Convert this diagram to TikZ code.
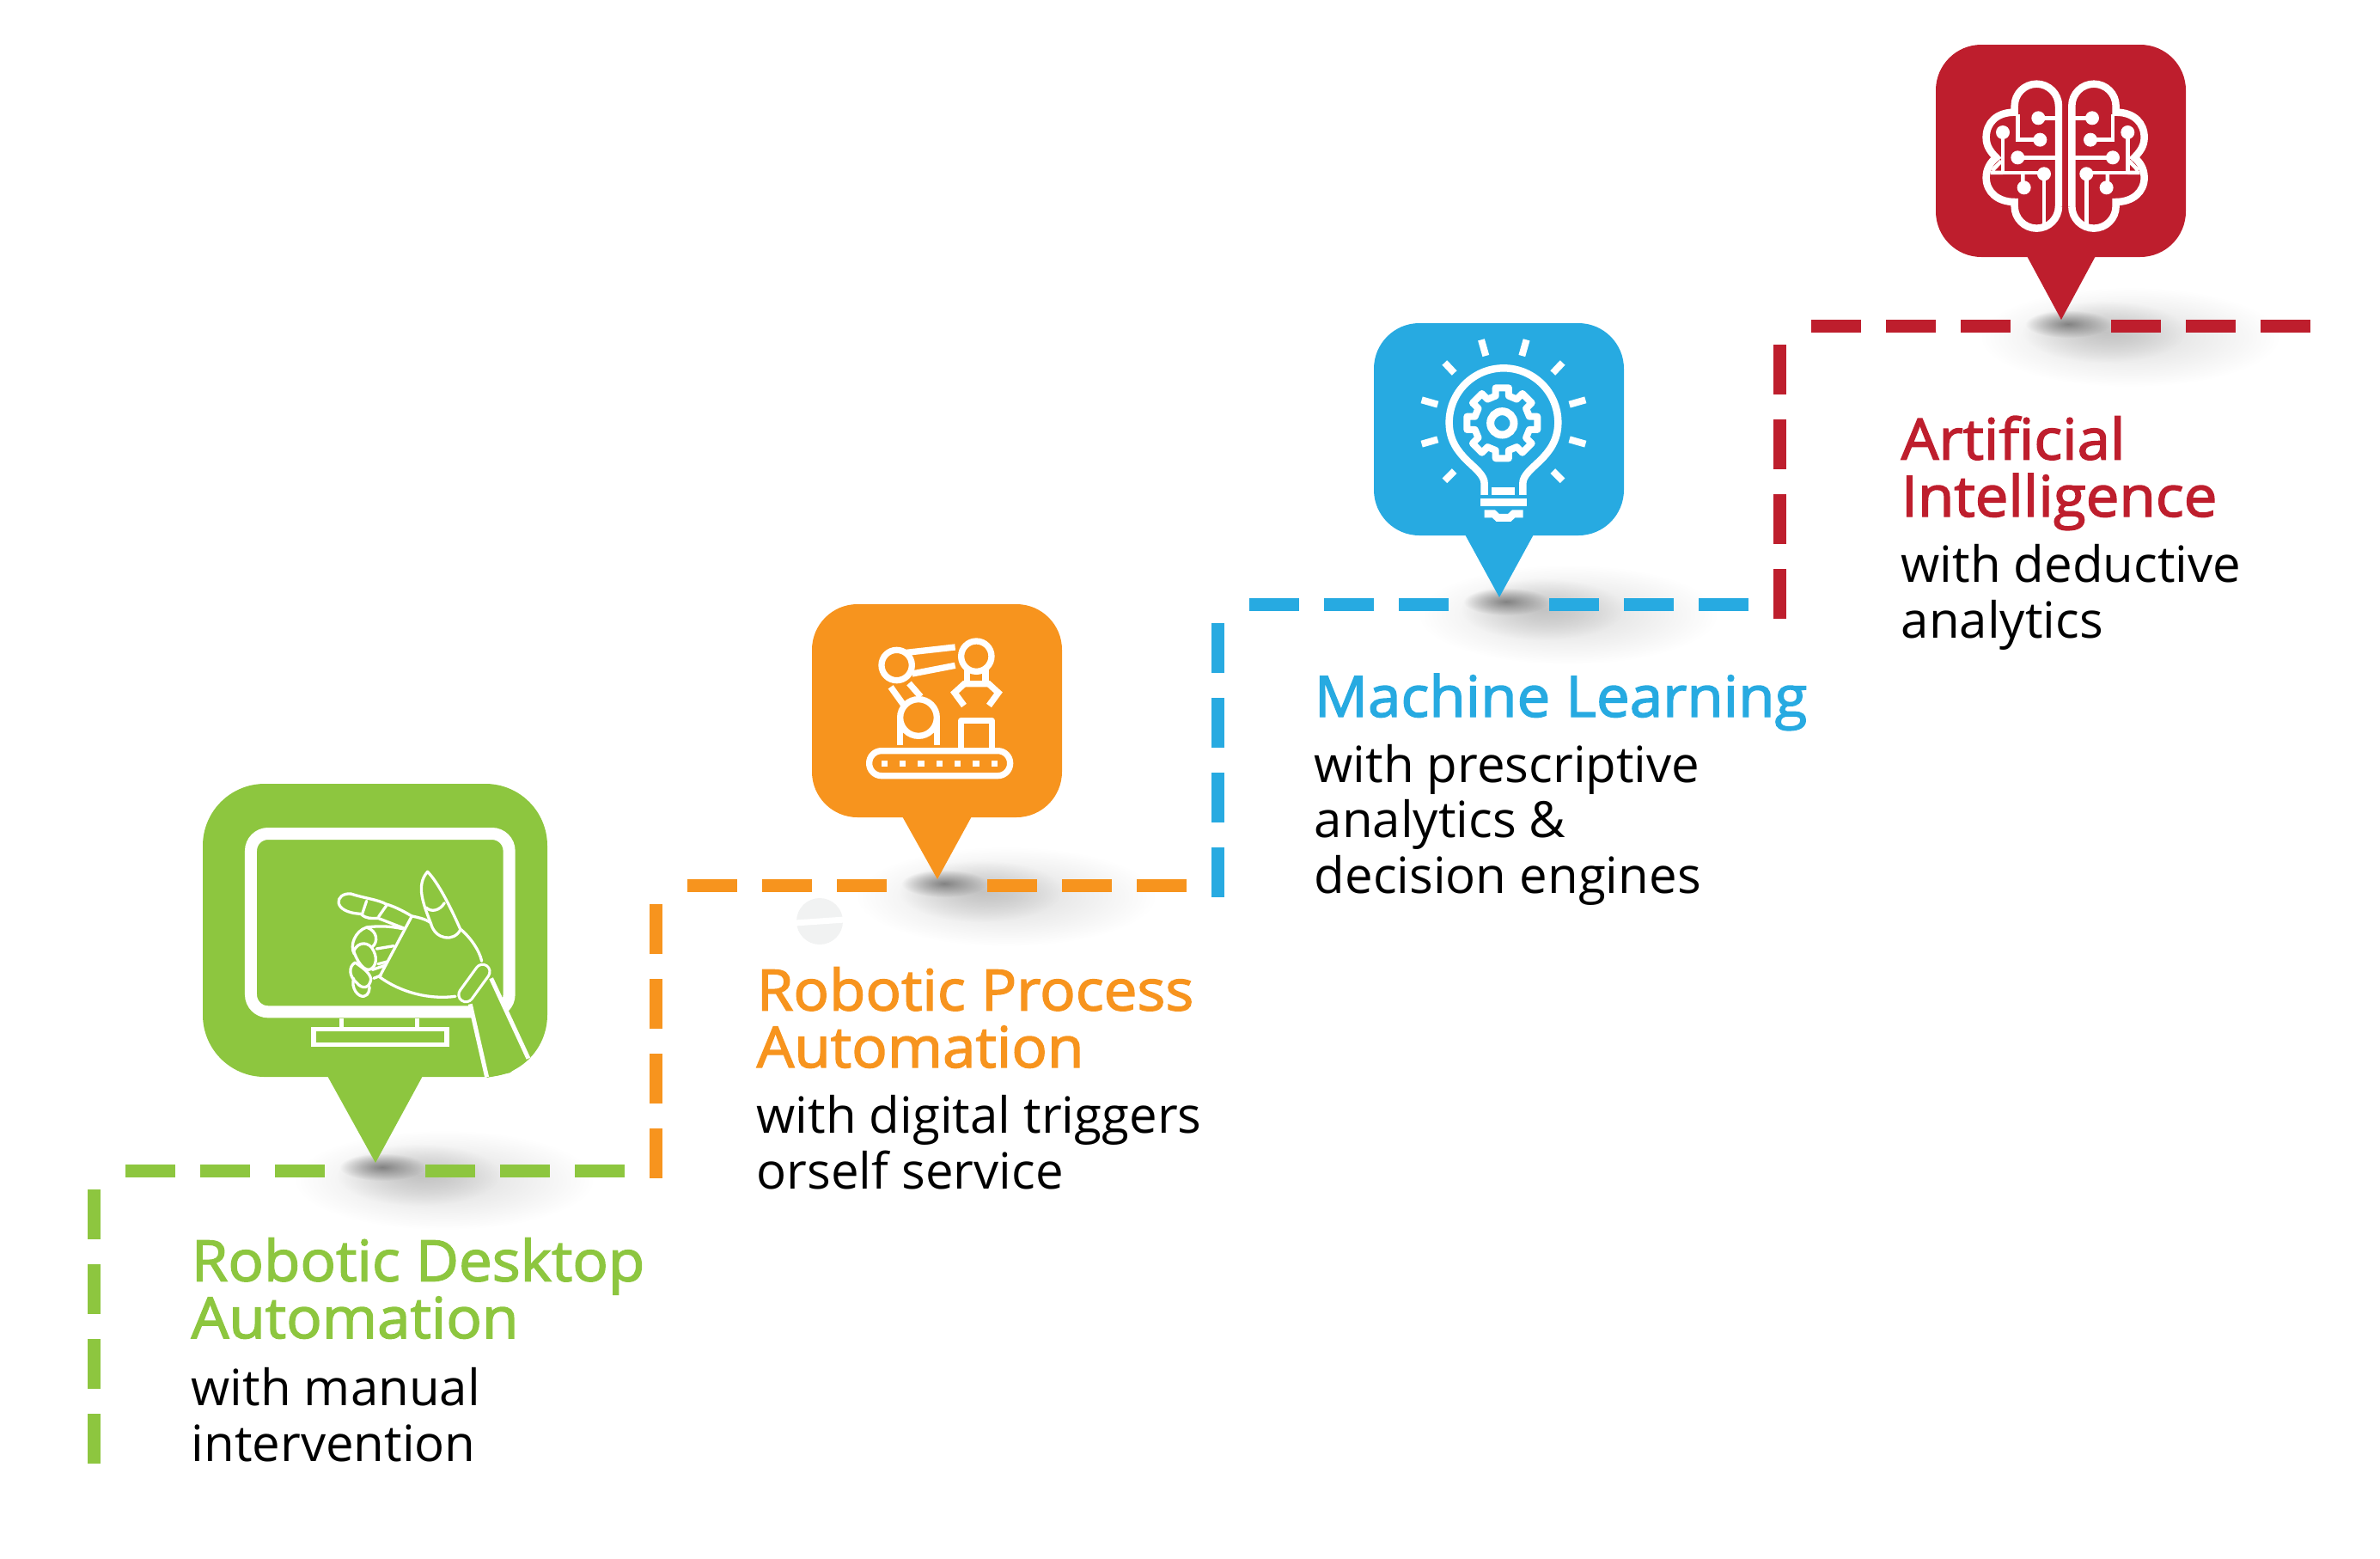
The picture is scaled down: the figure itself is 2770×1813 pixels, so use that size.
\documentclass[tikz,border=0pt]{standalone}
\usepackage{fontspec}
\setmainfont{Open Sans}
\newfontfamily\titlefont{Open Sans}[FakeBold=2.2, FakeStretch=1.045]
\usetikzlibrary{fadings}

\definecolor{rdagreen}{HTML}{8DC63F}
\definecolor{rpaorange}{HTML}{F7941E}
\definecolor{mlblue}{HTML}{27AAE1}
\definecolor{aired}{HTML}{BE1E2D}
\definecolor{ghostgray}{HTML}{F1F2F2}

\tikzfading[name=shadowfade, inner color=transparent!15, outer color=transparent!100]

\tikzset{
  dashline/.style={line width=1.5mm, dash pattern=on 5.8mm off 2.9mm},
  titletext/.style={anchor=base west, align=left, inner sep=0pt, font=\titlefont\fontsize{18.8}{18.9}\selectfont},
  bodytext/.style={anchor=base west, align=left, inner sep=0pt, font=\fontsize{16.55}{18.35}\selectfont},
  icon/.style={white, line width=0.73mm},
  wire/.style={white, line width=0.45mm},
  hand/.style={white, line width=0.33mm, line join=round, line cap=round}
}

\begin{document}
\begin{tikzpicture}[x=0.1mm, y=-0.1mm]
\useasboundingbox (0,0) rectangle (2770,1813);

% Shadows
\foreach \tipx/\tipy in {437/1353, 1091/1023, 1745/695, 2399/372} {
  \fill[black!16, path fading=shadowfade] (\tipx+80,\tipy+20) ellipse (175 and 58);
  \fill[black!26, path fading=shadowfade] (\tipx+50,\tipy+14) ellipse (95 and 36);
  \fill[black!55, path fading=shadowfade] (\tipx+8,\tipy+5) ellipse (50 and 16);
}

% Ghost mark
\fill[ghostgray] (954,1072) circle (27);
\draw[white, line width=0.7mm] (925,1074) -- (983,1070);

% Dashes
\draw[dashline, rdagreen] (109.5,1384) -- (109.5,1704);
\draw[dashline, rdagreen] (146,1362.5) -- (378,1362.5);
\draw[dashline, rdagreen] (495,1362.5) -- (727,1362.5);
\draw[dashline, rpaorange] (763.5,1052) -- (763.5,1372);
\draw[dashline, rpaorange] (800,1030.5) -- (1032,1030.5);
\draw[dashline, rpaorange] (1149,1030.5) -- (1381,1030.5);
\draw[dashline, mlblue] (1417.5,725) -- (1417.5,1045);
\draw[dashline, mlblue] (1454,703) -- (1686,703);
\draw[dashline, mlblue] (1803,703) -- (2035,703);
\draw[dashline, aired] (2071.5,401) -- (2071.5,721);
\draw[dashline, aired] (2108,379.5) -- (2340,379.5);
\draw[dashline, aired] (2457,379.5) -- (2689,379.5);

% Pins
\fill[rdagreen, rounded corners=7.2mm] (236,912) rectangle (637,1253);
\fill[rdagreen] (380,1250) -- (437,1353) -- (493,1250) -- cycle;
\fill[rpaorange, rounded corners=5.3mm] (945,703) rectangle (1236,951);
\fill[rpaorange] (1049,948) -- (1091,1023) -- (1132,948) -- cycle;
\fill[mlblue, rounded corners=5.3mm] (1599,376) rectangle (1890,623);
\fill[mlblue] (1704,620) -- (1745,695) -- (1786,620) -- cycle;
\fill[aired, rounded corners=5.3mm] (2253,52) rectangle (2544,299);
\fill[aired] (2358,296) -- (2399,372) -- (2440,296) -- cycle;

% Monitor and robot hand
\begin{scope}[shift={(200,880)}, scale=0.3333]
  \draw[white, line width=1.4mm, rounded corners=2mm] (276,270) rectangle (1178,892);
  \draw[white, line width=0.5mm] (594,915) -- (594,950) (858,915) -- (858,950);
  \draw[white, line width=0.55mm] (495,953) rectangle (960,1007);
  % arm
  \fill[rdagreen] (1042,860) -- (1100,1122) -- (1180,1105) -- (1245,1055) -- (1115,775) -- cycle;
  \draw[hand, line cap=butt, line width=0.5mm] (1042,865) -- (1100,1120) (1115,775) -- (1245,1055);
  % cuff
  \draw[white, line width=2mm, line cap=round] (1085,752) -- (1027,832);
  \draw[rdagreen, line width=1.35mm, line cap=round] (1085,752) -- (1027,832);
  % palm
  \draw[hand] (1010,605) .. controls (1045,635) and (1075,680) .. (1082,715);
  \draw[hand] (990,838) .. controls (900,850) and (800,825) .. (725,770);
  \draw[hand] (838,558) -- (725,770);
  \draw[hand] (838,558) .. controls (860,562) and (885,568) .. (903,580);
  % thumb
  \draw[hand] (905,585) .. controls (880,520) and (850,450) .. (893,403) .. controls (930,440) and (975,530) .. (1008,605);
  \draw[hand] (905,585) .. controls (920,640) and (985,650) .. (1008,605);
  \draw[hand] (888,528) .. controls (905,545) and (935,540) .. (952,512);
  % index finger
  \draw[hand] (838,558) .. controls (800,535) and (770,522) .. (748,516) .. controls (720,500) and (670,495) .. (625,480);
  \draw[hand] (625,480) .. controls (570,475) and (555,545) .. (660,550);
  \draw[hand] (660,550) .. controls (680,570) and (700,565) .. (720,565) -- (810,600);
  \draw[hand] (680,505) -- (665,550) (750,520) -- (722,560);
  % curled fingers
  \draw[hand] (805,602) .. controls (760,592) and (720,592) .. (680,597) .. controls (640,610) and (620,660) .. (637,690);
  \draw[hand] (680,597) .. controls (720,610) and (720,650) .. (700,665);
  \draw[hand] (635,680) .. controls (650,645) and (690,645) .. (705,680) .. controls (720,710) and (710,740) .. (688,745) .. controls (665,745) and (645,710) .. (635,680);
  \draw[hand] (640,720) .. controls (615,735) and (620,770) .. (645,790) .. controls (665,815) and (690,810) .. (695,780) .. controls (695,760) and (670,740) .. (640,720);
  \draw[hand] (635,775) .. controls (625,810) and (650,840) .. (670,838) .. controls (690,835) and (690,810) .. (690,805);
  \draw[hand] (715,672) -- (775,662) (720,725) -- (752,717) (700,745) -- (745,730) (705,775) -- (730,765);
\end{scope}

% Robot arm icon
\begin{scope}[shift={(920,680)}, scale=0.3333]
  \draw[icon] (371,282) circle (53);
  \draw[icon] (405,238) -- (575,219) (425,312) -- (575,283);
  \draw[icon] (649,251) circle (53);
  \draw[icon] (617,290) -- (617,347) (681,290) -- (681,347);
  \draw[icon] (606,423) -- (573,378) -- (607,347) -- (692,347) -- (726,378) -- (693,423);
  \draw[icon] (447,465) circle (64);
  \draw[icon] (382,465) -- (382,560) (511,465) -- (511,560);
  \draw[icon] (350,358) -- (393,418) (414,345) -- (455,392);
  \draw[icon, line join=round] (596,572) -- (596,475) -- (703,475) -- (703,572);
  \draw[icon, rounded corners=1.43mm] (275,581) rectangle (767,668);
  \foreach \dotx in {328,392,456,520,584,648,712}
    \fill[white] (\dotx-11,614) rectangle (\dotx+11,636);
\end{scope}

% Light bulb icon
\begin{scope}[shift={(1580,360)}, scale=0.3333]
  \draw[icon, line width=0.85mm] (443,648) -- (443,608) .. controls (443,550) and (320,520) .. (320,395) arc[start angle=180, end angle=360, radius=190] .. controls (700,520) and (577,550) .. (577,608) -- (577,648);
  \fill[white] (469,620) rectangle (550,647);
  \fill[white] (430,660) rectangle (590,686);
  \fill[white] (443,700) -- (480,700) -- (495,714) -- (525,714) -- (540,700) -- (578,700) -- (578,727) -- (550,727) -- (535,741) -- (485,741) -- (470,727) -- (443,727) -- cycle;
  \draw[icon, line width=0.8mm] (432,106) -- (448,162) (590,106) -- (574,162);
  \draw[icon, line width=0.8mm] (304,186) -- (338,222) (716,186) -- (682,222);
  \draw[icon, line width=0.8mm] (224,316) -- (280,332) (796,316) -- (740,332);
  \draw[icon, line width=0.8mm] (224,470) -- (280,454) (796,470) -- (740,454);
  \draw[icon, line width=0.8mm] (304,598) -- (338,564) (716,598) -- (682,564);
  \begin{scope}[shift={(505,397)}]
    \draw[icon, line width=0.9mm] (0,0) circle (41);
    \draw[icon, line width=0.8mm, line join=round] (-13.6:97.7) foreach \ang in {0,45,...,315} { -- ({\ang-13.6}:97.7) -- ({\ang-10.6}:125) -- ({\ang+10.6}:125) -- ({\ang+13.6}:97.7) } -- cycle;
  \end{scope}
\end{scope}

% Brain icon
\begin{scope}[shift={(2240,40)}, scale=0.3333]
  \foreach \side in {1,-1} {
    \begin{scope}[shift={(491,0)}, xscale=\side, shift={(-491,0)}]
      \draw[icon, line width=0.85mm] (468,600) -- (468,250) arc[start angle=0, end angle=-180, radius=77] -- (314,272) .. controls (250,272) and (215,310) .. (215,360) .. controls (215,390) and (230,410) .. (250,430) .. controls (230,445) and (215,470) .. (215,500) .. controls (215,550) and (255,585) .. (314,585) -- (314,600) arc[start angle=180, end angle=0, radius=77];
      \draw[wire] (397,292) -- (456,292);
      \fill[white] (397,292) circle (24);
      \draw[wire] (403,368) -- (325,368) -- (325,280);
      \fill[white] (403,368) circle (24);
      \draw[wire] (325,430) -- (456,430);
      \fill[white] (325,430) circle (24);
      \draw[wire] (273,342) -- (273,483) -- (417,483) -- (417,665);
      \fill[white] (273,342) circle (24) (417,487) circle (24);
      \draw[wire] (343,483) -- (343,535) (230,483) -- (273,483) (236,475) -- (268,442);
      \fill[white] (347,535) circle (24);
    \end{scope}
  }
\end{scope}

% Labels
\node[titletext, text=rdagreen] (rdaTitle) at (222,1557) {Robotic Desktop\\Automation};
\node[bodytext] (rdaBody) at (222,1700) {with manual\\intervention};
\node[titletext, text=rpaorange] (rpaTitle) at (880,1242) {Robotic Process\\Automation};
\node[bodytext] (rpaBody) at (880,1383) {with digital triggers\\orself service};
\node[titletext, text=mlblue] (mlTitle) at (1529,834) {Machine Learning};
\node[bodytext] (mlBody) at (1529,1039) {with prescriptive\\analytics \&\\decision engines};
\node[titletext, text=aired] (aiTitle) at (2212,601) {Artificial\\Intelligence};
\node[bodytext] (aiBody) at (2212,742) {with deductive\\analytics};
\end{tikzpicture}
\end{document}
